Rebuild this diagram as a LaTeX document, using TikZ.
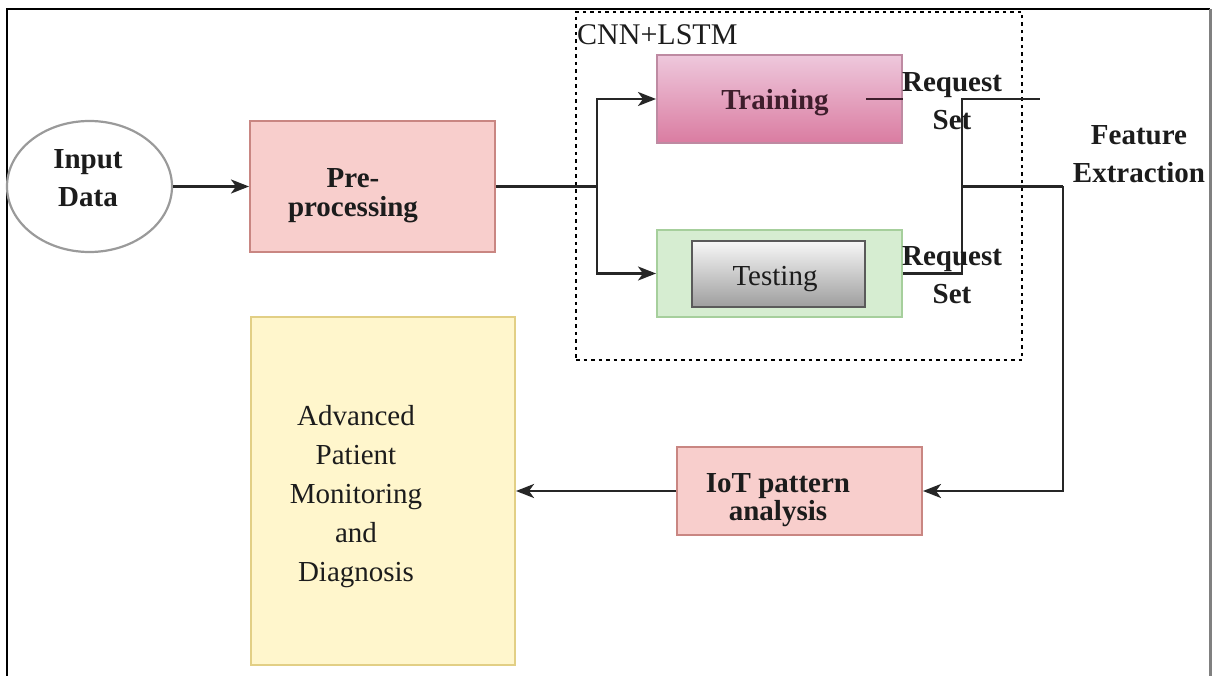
\documentclass[tikz,border=0pt]{standalone}
\usepackage{fontspec}
\setmainfont{Liberation Serif}
\usetikzlibrary{arrows.meta,shapes.geometric}
\definecolor{txt}{HTML}{1C1C1C}
\definecolor{lin}{HTML}{262626}
\definecolor{ellgray}{HTML}{9A9A9A}
\definecolor{pinkfill}{HTML}{F8CECC}
\definecolor{pinkline}{HTML}{C98682}
\definecolor{traintop}{HTML}{EEC8DC}
\definecolor{trainbot}{HTML}{DA7CA1}
\definecolor{trainline}{HTML}{BE8AA2}
\definecolor{maroon}{HTML}{3E1E2C}
\definecolor{greenfill}{HTML}{D6EDD1}
\definecolor{greenline}{HTML}{A6CF9C}
\definecolor{graytop}{HTML}{F7F7F7}
\definecolor{graybot}{HTML}{9E9E9E}
\definecolor{grayline}{HTML}{5A5A5A}
\definecolor{yelfill}{HTML}{FFF6CC}
\definecolor{yelline}{HTML}{E2CF85}
\begin{document}
\begin{tikzpicture}[x=1pt,y=-1pt,
  box/.style={draw, line width=2pt, inner sep=0pt},
  lbl/.style={font=\fontsize{29}{38}\selectfont\bfseries, text=txt, inner sep=0pt, align=center, anchor=base},
  rlbl/.style={lbl, font=\fontsize{29}{39}\selectfont},
  conn/.style={line width=2.6pt, draw=lin},
  arr/.style={conn, -{Stealth[length=18pt,width=14pt,inset=5pt]}}]
\useasboundingbox (0,0) rectangle (1212,676);
\fill[white] (0,0) rectangle (1212,676);
% frame
\draw[line width=2.2pt, black] (7,676) -- (7,9) -- (1210,9);
\draw[line width=3pt, gray] (1210,9) -- (1210,676);
% boxes
\node[ellipse, draw=ellgray, line width=2.2pt, fill=white, minimum width=165pt, minimum height=131pt, inner sep=0pt] (inp) at (89.5,186.5) {};
\node[box, draw=pinkline, fill=pinkfill, minimum width=245pt, minimum height=131pt] (pre) at (372.5,186.5) {};
\node[draw=black, line width=2.2pt, dash pattern=on 3.5pt off 4pt, minimum width=446pt, minimum height=348pt, inner sep=0pt] (cnn) at (799,186) {};
\node[box, draw=trainline, top color=traintop, bottom color=trainbot, minimum width=245pt, minimum height=88pt] (train) at (779.5,99) {};
\node[box, draw=greenline, fill=greenfill, minimum width=245pt, minimum height=87pt] (testo) at (779.5,273.5) {};
\node[box, draw=grayline, top color=graytop, bottom color=graybot, minimum width=173pt, minimum height=66pt] (testi) at (778.5,274) {};
\node[box, draw=pinkline, fill=pinkfill, minimum width=245pt, minimum height=88pt] (iot) at (799.5,491) {};
\node[box, draw=yelline, fill=yelfill, minimum width=264pt, minimum height=348pt] (adv) at (383,491) {};
% connectors
\coordinate (split) at (597,186.5);
\coordinate (tl) at (866,99);
\coordinate (rv) at (962,99);
\coordinate (fe) at (1040,99);
\coordinate (jn) at (962,186.5);
\coordinate (cr) at (1063,186.5);
\draw[arr] (inp.east) -- (pre.west);
\draw[conn] (pre.east) -- (split);
\draw[arr] (split) |- (train.west);
\draw[arr] (split) |- (testo.west);
\draw[conn, draw=maroon] (tl) -- (train.east);
\draw[conn, line width=2.4pt] (testo.east) -| (rv) -- (fe);
\draw[conn, line width=2.4pt] (jn) -- (cr);
\draw[arr, line width=2.4pt] (cr) |- (iot.east);
\draw[arr] (iot.west) -- (adv.east);
% labels
\node[rlbl, anchor=base west, font=\fontsize{30}{36}\selectfont] (cnnlbl) at (577,45) {CNN+LSTM};
\node[lbl] (inplbl) at (88,207) {Input\\Data};
\node[lbl, font=\fontsize{29}{29}\selectfont\bfseries] (prelbl) at (353,217) {Pre-\\processing};
\node[lbl, text=maroon] (trainlbl) at (775,110) {Training};
\node[rlbl] (testlbl) at (775,285) {Testing};
\node[lbl] (req1) at (952,130) {Request\\Set};
\node[lbl] (req2) at (952,303) {Request\\Set};
\node[lbl] (felbl) at (1139,183) {Feature\\Extraction};
\node[lbl, font=\fontsize{29}{28}\selectfont\bfseries] (iotlbl) at (778,520) {IoT pattern\\analysis};
\node[rlbl] (advlbl) at (356,581) {Advanced\\Patient\\Monitoring\\and\\Diagnosis};
\end{tikzpicture}
\end{document}
